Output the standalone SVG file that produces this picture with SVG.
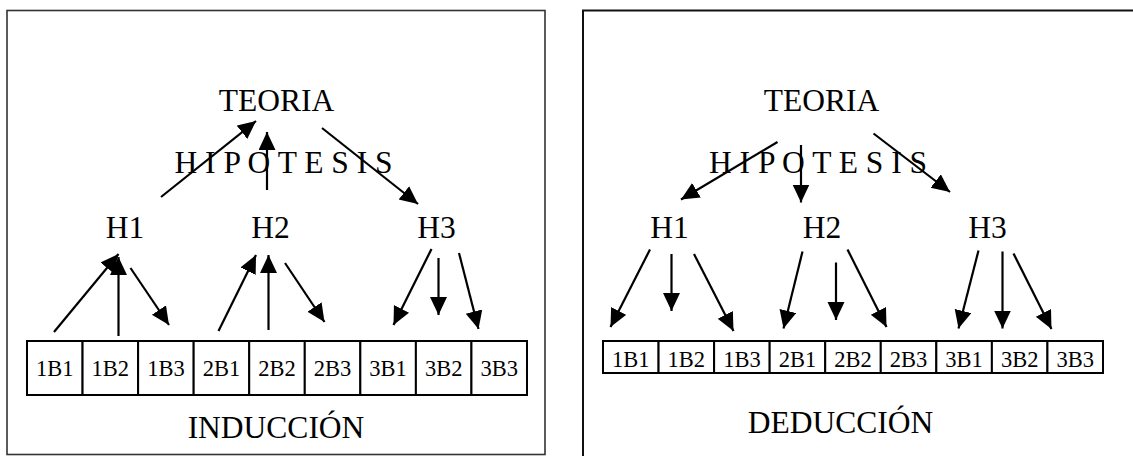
<svg xmlns="http://www.w3.org/2000/svg" width="1133" height="456" viewBox="0 0 1133 456">
  <style>
    .t { font-family: "Liberation Serif", "Times New Roman", serif; fill: #000; text-anchor: middle; }
    .big { font-size: 31.5px; }
    .cell-t { font-size: 22.5px; }
    .cell { fill: #fff; stroke: #000; stroke-width: 2; }
    .frame { fill: none; }
    .arr { stroke: #000; stroke-width: 2.2; fill: none; marker-end: url(#head); }
  </style>
  <defs>
    <marker id="head" markerUnits="userSpaceOnUse" markerWidth="19" markerHeight="18" refX="18" refY="8.5" orient="auto">
      <path d="M0,0 L18,8.5 L0,17 Z" fill="#000"/>
    </marker>
  </defs>
  <rect width="1133" height="456" fill="#fff"/>

  <!-- panel frames -->
  <g id="frame-induccion">
    <rect class="frame" x="7" y="10.5" width="538" height="444" stroke="#333" stroke-width="1.6"/>
  </g>
  <g id="frame-deduccion">
    <rect class="frame" x="583" y="10.5" width="560" height="460" stroke="#111" stroke-width="2"/>
  </g>

  <!-- INDUCCIÓN panel -->
  <g id="ind-teoria"><text class="t big" x="276.5" y="111">TEORIA</text></g>
  <g id="ind-hipotesis"><text class="t big" x="283.5" y="173" xml:space="preserve">H I P O T E S I S</text></g>
  <g id="ind-h1"><text class="t big" x="125" y="238">H1</text></g>
  <g id="ind-h2"><text class="t big" x="270.5" y="238">H2</text></g>
  <g id="ind-h3"><text class="t big" x="436.5" y="238">H3</text></g>
  <g id="ind-cells">
    <rect class="cell" x="27" y="341" width="55.56" height="54"/>
    <rect class="cell" x="82.56" y="341" width="55.56" height="54"/>
    <rect class="cell" x="138.11" y="341" width="55.56" height="54"/>
    <rect class="cell" x="193.67" y="341" width="55.56" height="54"/>
    <rect class="cell" x="249.22" y="341" width="55.56" height="54"/>
    <rect class="cell" x="304.78" y="341" width="55.56" height="54"/>
    <rect class="cell" x="360.33" y="341" width="55.56" height="54"/>
    <rect class="cell" x="415.89" y="341" width="55.56" height="54"/>
    <rect class="cell" x="471.44" y="341" width="55.56" height="54"/>
    <text class="t cell-t" x="54.8" y="376">1B1</text>
    <text class="t cell-t" x="110.3" y="376">1B2</text>
    <text class="t cell-t" x="165.9" y="376">1B3</text>
    <text class="t cell-t" x="221.4" y="376">2B1</text>
    <text class="t cell-t" x="277" y="376">2B2</text>
    <text class="t cell-t" x="332.6" y="376">2B3</text>
    <text class="t cell-t" x="388.1" y="376">3B1</text>
    <text class="t cell-t" x="443.7" y="376">3B2</text>
    <text class="t cell-t" x="499.2" y="376">3B3</text>
  </g>
  <g id="ind-title"><text class="t big" x="276" y="438">INDUCCIÓN</text></g>

  <!-- DEDUCCIÓN panel -->
  <g id="ded-teoria"><text class="t big" x="821.5" y="111">TEORIA</text></g>
  <g id="ded-hipotesis"><text class="t big" x="818" y="173" xml:space="preserve">H I P O T E S I S</text></g>
  <g id="ded-h1"><text class="t big" x="669.5" y="238">H1</text></g>
  <g id="ded-h2"><text class="t big" x="822" y="238">H2</text></g>
  <g id="ded-h3"><text class="t big" x="987.5" y="238">H3</text></g>
  <g id="ded-cells">
    <rect class="cell" x="603" y="341" width="55.56" height="32"/>
    <rect class="cell" x="658.56" y="341" width="55.56" height="32"/>
    <rect class="cell" x="714.11" y="341" width="55.56" height="32"/>
    <rect class="cell" x="769.67" y="341" width="55.56" height="32"/>
    <rect class="cell" x="825.22" y="341" width="55.56" height="32"/>
    <rect class="cell" x="880.78" y="341" width="55.56" height="32"/>
    <rect class="cell" x="936.33" y="341" width="55.56" height="32"/>
    <rect class="cell" x="991.89" y="341" width="55.56" height="32"/>
    <rect class="cell" x="1047.44" y="341" width="55.56" height="32"/>
    <text class="t cell-t" x="630.8" y="367">1B1</text>
    <text class="t cell-t" x="686.3" y="367">1B2</text>
    <text class="t cell-t" x="741.9" y="367">1B3</text>
    <text class="t cell-t" x="797.4" y="367">2B1</text>
    <text class="t cell-t" x="853" y="367">2B2</text>
    <text class="t cell-t" x="908.6" y="367">2B3</text>
    <text class="t cell-t" x="964.1" y="367">3B1</text>
    <text class="t cell-t" x="1019.7" y="367">3B2</text>
    <text class="t cell-t" x="1075.2" y="367">3B3</text>
  </g>
  <g id="ded-title"><text class="t big" x="840.5" y="433">DEDUCCIÓN</text></g>

  <!-- connectors -->
  <g id="connectors">
    <!-- induction: observations up to hypotheses, hypotheses up to theory -->
    <line class="arr" x1="161" y1="197" x2="256" y2="121"/>
    <line class="arr" x1="267" y1="190" x2="267" y2="132"/>
    <line class="arr" x1="322" y1="128" x2="418" y2="204"/>
    <line class="arr" x1="54" y1="332" x2="118.5" y2="254"/>
    <line class="arr" x1="118.5" y1="336" x2="118.5" y2="257"/>
    <line class="arr" x1="130.5" y1="268" x2="169" y2="325"/>
    <line class="arr" x1="218.5" y1="331" x2="256" y2="255"/>
    <line class="arr" x1="268.5" y1="330" x2="268.5" y2="255"/>
    <line class="arr" x1="285" y1="263" x2="324.5" y2="322"/>
    <line class="arr" x1="431.5" y1="249" x2="393.5" y2="325"/>
    <line class="arr" x1="438.5" y1="258" x2="438.5" y2="315"/>
    <line class="arr" x1="459" y1="253" x2="478.5" y2="329"/>
    <!-- deduction: theory down to hypotheses, hypotheses down to observations -->
    <line class="arr" x1="777.5" y1="142" x2="681" y2="199.5"/>
    <line class="arr" x1="801" y1="145" x2="801" y2="202.5"/>
    <line class="arr" x1="873.5" y1="133.5" x2="950" y2="192"/>
    <line class="arr" x1="650" y1="249.5" x2="610.5" y2="327"/>
    <line class="arr" x1="671.5" y1="254" x2="671.5" y2="311"/>
    <line class="arr" x1="694" y1="254" x2="733.5" y2="331"/>
    <line class="arr" x1="802.5" y1="251.5" x2="783.5" y2="328.5"/>
    <line class="arr" x1="836" y1="262.5" x2="836" y2="320"/>
    <line class="arr" x1="847.5" y1="249.5" x2="886.5" y2="327"/>
    <line class="arr" x1="978.5" y1="250.5" x2="958.5" y2="328.5"/>
    <line class="arr" x1="1002.5" y1="251.5" x2="1002.5" y2="328.5"/>
    <line class="arr" x1="1013.5" y1="253.5" x2="1051.5" y2="329"/>
  </g>
</svg>
